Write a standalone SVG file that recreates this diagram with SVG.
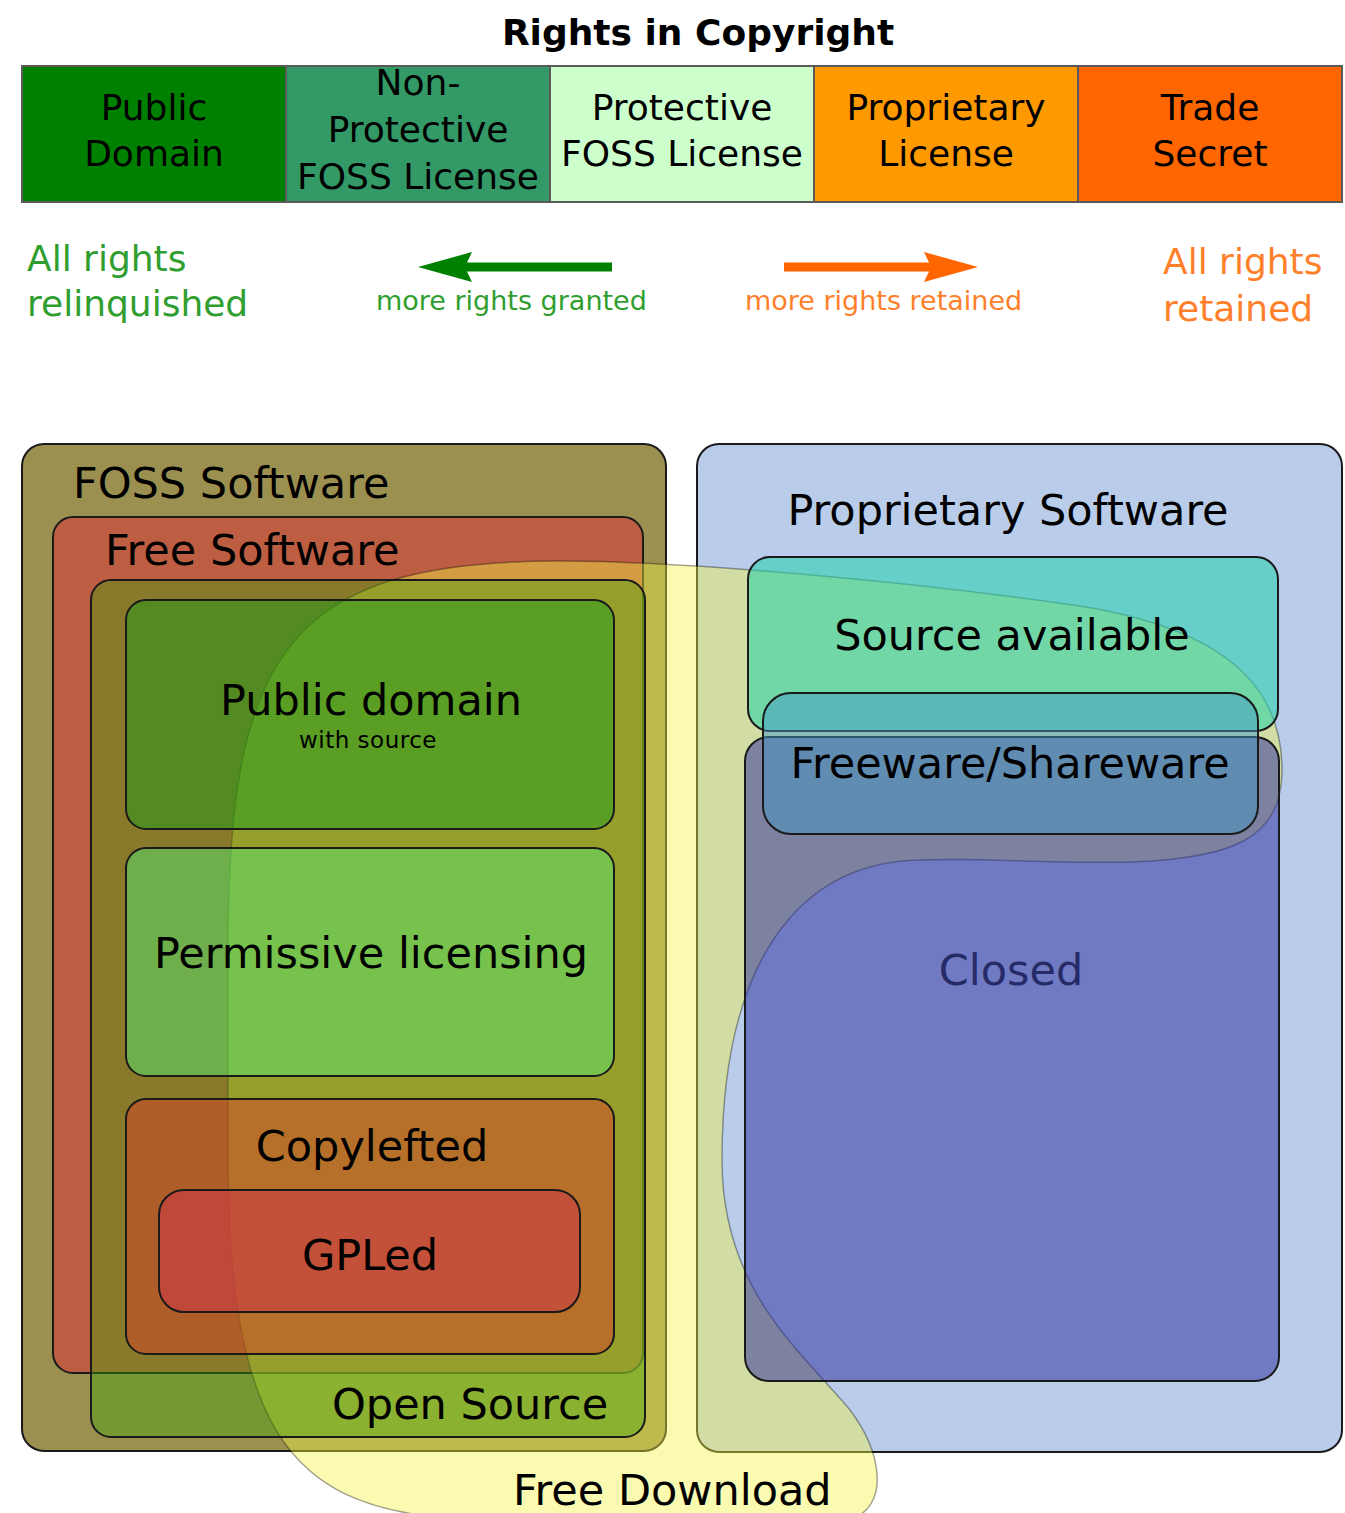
<svg xmlns="http://www.w3.org/2000/svg" width="1345" height="1513" viewBox="0 0 1345 1513">
  <style>
    text { font-family: "DejaVu Sans", "Liberation Sans", sans-serif; fill: #000; }
    .title { font-size: 36px; font-weight: bold; text-anchor: middle; }
    .cell { stroke: #5a5a5a; stroke-width: 2; }
    .bar { font-size: 36px; text-anchor: middle; }
    .legend { font-size: 36px; }
    .small { font-size: 27px; }
    .green { fill: #2f9e2f; }
    .orange { fill: #ff7f2a; }
    .box { stroke: #1a1a1a; stroke-width: 2; }
    .lbl { font-size: 43px; }
    .mid { text-anchor: middle; }
  </style>

  <rect width="1345" height="1513" fill="#ffffff"/>

  <!-- Title and licence spectrum bar -->
  <g id="spectrum">
    <text class="title" x="698" y="45">Rights in Copyright</text>
    <g id="cell-public-domain">
      <rect class="cell" x="22" y="66" width="264" height="136" fill="#008000"/>
      <text class="bar" x="154" y="120">Public</text>
      <text class="bar" x="154" y="166">Domain</text>
    </g>
    <g id="cell-non-protective">
      <rect class="cell" x="286" y="66" width="264" height="136" fill="#339966"/>
      <text class="bar" x="418" y="95">Non-</text>
      <text class="bar" x="418" y="142">Protective</text>
      <text class="bar" x="418" y="189">FOSS License</text>
    </g>
    <g id="cell-protective">
      <rect class="cell" x="550" y="66" width="264" height="136" fill="#ccffcc"/>
      <text class="bar" x="682" y="120">Protective</text>
      <text class="bar" x="682" y="166">FOSS License</text>
    </g>
    <g id="cell-proprietary">
      <rect class="cell" x="814" y="66" width="264" height="136" fill="#ff9900"/>
      <text class="bar" x="946" y="120">Proprietary</text>
      <text class="bar" x="946" y="166">License</text>
    </g>
    <g id="cell-trade-secret">
      <rect class="cell" x="1078" y="66" width="264" height="136" fill="#ff6600"/>
      <text class="bar" x="1210" y="120">Trade</text>
      <text class="bar" x="1210" y="166">Secret</text>
    </g>
  </g>

  <!-- Legend under the bar -->
  <g id="legend">
    <text class="legend green" x="27" y="271">All rights</text>
    <text class="legend green" x="27" y="316">relinquished</text>
    <text class="legend orange" x="1163" y="274">All rights</text>
    <text class="legend orange" x="1163" y="321">retained</text>
    <text class="small green" x="376" y="310">more rights granted</text>
    <text class="small orange" x="745" y="310">more rights retained</text>
  </g>
  <g id="connectors">
    <path d="M418,267 L472,252 L467,262.5 L612,262.5 L612,271.5 L467,271.5 L472,282 Z" fill="#008000"/>
    <path d="M978,267 L924,252 L929,262.5 L784,262.5 L784,271.5 L929,271.5 L924,282 Z" fill="#ff6600"/>
  </g>

  <!-- Software categories -->
  <g id="foss-software">
    <rect class="box" x="22" y="444" width="644" height="1007" rx="22" fill="#9c9050"/>
    <text class="lbl" x="73" y="498">FOSS Software</text>
  </g>

  <g id="proprietary-software">
    <rect class="box" x="697" y="444" width="645" height="1008" rx="22" fill="#b9cdeb"/>
    <text class="lbl mid" x="1008" y="525">Proprietary Software</text>
  </g>

  <g id="free-software">
    <rect class="box" x="53" y="517" width="590" height="856" rx="20" fill="#bd5d42"/>
    <text class="lbl" x="105" y="565">Free Software</text>
  </g>

  <g id="free-download">
    <path d="M228,950 C228,650 290,561 560,561 C680,561 900,580 1080,606 C1230,630 1282,690 1282,770 C1282,840 1230,858 1133,862 C1050,864 980,857 920,860 C800,862 722,960 722,1160 C722,1290 800,1350 850,1410 C880,1450 890,1500 855,1518 L446,1518 C290,1505 228,1430 228,1150 Z"
          fill="rgb(243,243,70)" fill-opacity="0.42" stroke="#000" stroke-opacity="0.35" stroke-width="1.5"/>
    <text class="lbl" x="513" y="1505">Free Download</text>
  </g>

  <g id="open-source">
    <rect class="box" x="91" y="580" width="554" height="857" rx="20" fill="rgb(61,165,11)" fill-opacity="0.4"/>
    <text class="lbl" x="332" y="1419">Open Source</text>
  </g>

  <g id="public-domain">
    <rect class="box" x="126" y="600" width="488" height="229" rx="20" fill="rgb(30,158,26)" fill-opacity="0.5"/>
    <text class="lbl mid" x="371" y="715">Public domain</text>
    <text class="mid" x="368" y="748" font-size="23" letter-spacing="0.5">with source</text>
  </g>

  <g id="permissive-licensing">
    <rect class="box" x="126" y="848" width="488" height="228" rx="20" fill="rgb(86,230,108)" fill-opacity="0.5"/>
    <text class="lbl mid" x="371" y="968">Permissive licensing</text>
  </g>

  <g id="copylefted">
    <rect class="box" x="126" y="1099" width="488" height="255" rx="20" fill="rgb(214,66,40)" fill-opacity="0.5"/>
    <text class="lbl mid" x="372" y="1161">Copylefted</text>
  </g>

  <g id="gpled">
    <rect class="box" x="159" y="1190" width="421" height="122" rx="25" fill="rgb(203,59,69)" fill-opacity="0.6"/>
    <text class="lbl mid" x="370" y="1270">GPLed</text>
  </g>

  <g id="source-available">
    <rect class="box" x="748" y="557" width="530" height="174" rx="22" fill="rgb(35,210,169)" fill-opacity="0.55"/>
    <text class="lbl mid" x="1012" y="650">Source available</text>
  </g>

  <g id="closed">
    <rect class="box" x="745" y="737" width="534" height="644" rx="24" fill="rgb(40,39,156)" fill-opacity="0.5"/>
    <text class="lbl mid" x="1011" y="985" style="fill:#262a66">Closed</text>
  </g>

  <g id="freeware-shareware">
    <rect class="box" x="763" y="693" width="495" height="141" rx="28" fill="rgb(68,151,198)" fill-opacity="0.49"/>
    <text class="lbl mid" x="1010" y="778">Freeware/Shareware</text>
  </g>
</svg>
